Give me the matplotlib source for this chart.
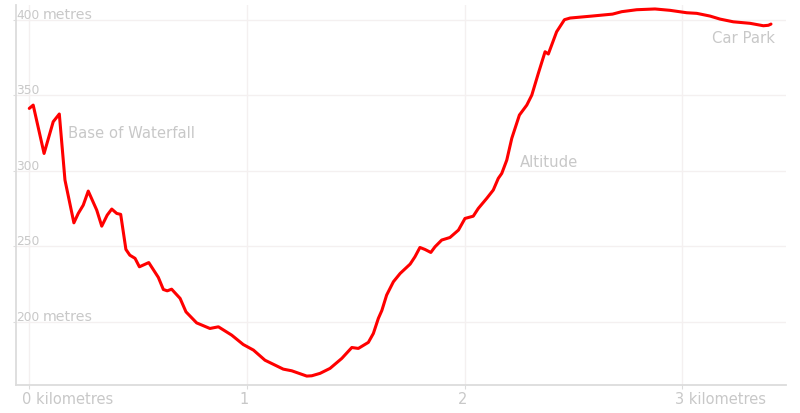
import matplotlib
matplotlib.use("Agg")
import matplotlib.pyplot as plt
import matplotlib.transforms as mtransforms

distance_km = [0.0, 0.018, 0.068, 0.11, 0.138, 0.164, 0.205, 0.225, 0.248, 0.271,
               0.31, 0.333, 0.358, 0.379, 0.402, 0.42, 0.444, 0.462, 0.486, 0.506,
               0.549, 0.593, 0.616, 0.634, 0.654, 0.693, 0.72, 0.769, 0.83, 0.869,
               0.93, 0.983, 1.03, 1.083, 1.167, 1.206, 1.275, 1.298, 1.336, 1.382,
               1.436, 1.482, 1.512, 1.558, 1.581, 1.604, 1.62, 1.642, 1.673, 1.704,
               1.75, 1.772, 1.795, 1.818, 1.845, 1.864, 1.895, 1.933, 1.972, 2.002,
               2.04, 2.063, 2.102, 2.132, 2.155, 2.171, 2.194, 2.217, 2.252, 2.286,
               2.309, 2.339, 2.37, 2.385, 2.423, 2.459, 2.485, 2.585, 2.68, 2.722,
               2.791, 2.875, 2.944, 3.021, 3.067, 3.128, 3.174, 3.235, 3.312, 3.373,
               3.396, 3.408]
altitude_m = [341.2, 343.4, 311.4, 332.4, 337.5, 293.8, 265.5, 271.7, 277.2, 286.5,
              273.9, 263.3, 270.6, 274.6, 271.7, 271.1, 247.9, 244.1, 242.0, 236.4,
              239.2, 229.4, 221.4, 220.5, 221.6, 215.5, 206.6, 199.3, 195.6, 196.7,
              191.2, 185.0, 181.3, 174.6, 168.7, 167.6, 164.1, 164.3, 165.9, 169.2,
              175.8, 183.0, 182.4, 186.4, 192.3, 202.3, 207.5, 217.7, 226.5, 232.0,
              238.2, 243.0, 249.2, 247.9, 245.9, 249.6, 254.1, 255.8, 260.7, 268.4,
              269.9, 275.0, 281.7, 287.2, 294.9, 298.2, 307.0, 321.4, 336.8, 343.4,
              350.0, 364.4, 378.7, 377.2, 391.9, 399.9, 401.0, 402.3, 403.6, 405.2,
              406.5, 407.0, 406.1, 404.5, 404.1, 402.3, 400.3, 398.5, 397.5, 395.9,
              396.2, 397.0]

x_ticks = [0, 1, 2, 3]
x_tick_labels = ["0 kilometres", "1", "2", "3 kilometres"]
y_ticks = [200, 250, 300, 350, 400]
y_tick_numbers = ["200", "250", "300", "350", "400"]
y_tick_units = ["metres", "", "", "", "metres"]

annotations = [("Base of Waterfall", 0.18, 324.5), ("Altitude", 2.252, 305.5), ("Car Park", 3.137, 387.3)]

label_color = "#c8c8c8"
grid_color = "#f4f0f0"

fig = plt.figure(figsize=(8.0, 4.13), dpi=100)
ax = fig.add_axes([0.02, 0.0678, 0.9625, 0.92])

ax.plot(distance_km, altitude_m, color="#ff0000", linewidth=2.2, solid_joinstyle="round",
        solid_capstyle="round", zorder=3)

ax.set_xlim(-0.061, 3.477)
ax.set_ylim(158.2, 409.6)

ax.set_xticks(x_ticks)
ax.set_xticklabels(x_tick_labels)
ax.set_yticks(y_ticks)
ax.set_yticklabels([])

ax.grid(True, color=grid_color, linewidth=1.0, zorder=0)
for s in ["top", "right"]:
    ax.spines[s].set_visible(False)
for s in ["left", "bottom"]:
    ax.spines[s].set_color("#dcdcdc")
    ax.spines[s].set_linewidth(1.3)

ax.tick_params(axis="x", length=3, color="#dcdcdc", labelcolor=label_color,
               labelsize=10.5, pad=2)
ax.tick_params(axis="y", length=2, color="#dcdcdc")

offset = mtransforms.ScaledTranslation(-7 / 100, 0, fig.dpi_scale_trans)
for lbl in ax.get_xticklabels():
    lbl.set_horizontalalignment("left")
    lbl.set_transform(lbl.get_transform() + offset)

unit_shift = mtransforms.ScaledTranslation(27 / 100, 0, fig.dpi_scale_trans)
for val, num, unit in zip(y_ticks, y_tick_numbers, y_tick_units):
    ax.text(0.0, val + 0.6, num, transform=ax.get_yaxis_transform(),
            ha="left", va="baseline", color=label_color, fontsize=8.8)
    if unit:
        ax.text(0.0, val + 0.6, unit, transform=ax.get_yaxis_transform() + unit_shift,
                ha="left", va="baseline", color=label_color, fontsize=10.2)

for txt, x, y in annotations:
    ax.text(x, y, txt, color=label_color, fontsize=10.7, ha="left", va="center")

fig.savefig("out.png", dpi=100)
